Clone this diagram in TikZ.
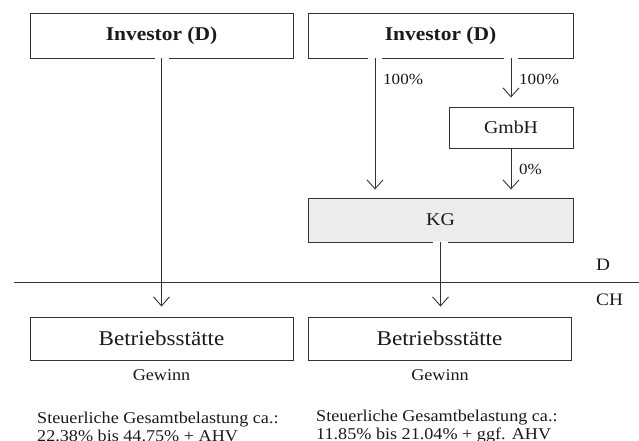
\documentclass[tikz,border=0pt]{standalone}
\usepackage{fontspec}
\setmainfont[FakeStretch=1.1]{Liberation Serif}
\usetikzlibrary{arrows.meta,calc}
\definecolor{ln}{HTML}{333333}
\definecolor{kgfill}{HTML}{ECECEC}
\definecolor{txt}{HTML}{1A1A1A}
\begin{document}
\begin{tikzpicture}[x=1pt,y=-1pt,
  box/.style={draw=ln, line width=0.9pt, inner sep=0pt, align=center, text=txt},
  arr/.style={draw=ln, line width=0.9pt, -{Straight Barb[length=9pt,width=16pt,line width=0.9pt]}},
  halo/.style={draw=white, line width=2.6pt},
  pct/.style={inner sep=0pt, anchor=west, text=txt, font=\fontsize{15.5}{17}\selectfont},
  big/.style={font=\fontsize{21}{23}\selectfont},
  mid/.style={font=\fontsize{18}{20}\selectfont},
  note/.style={inner sep=0pt, text=txt, font=\fontsize{16.5}{18}\selectfont},
  country/.style={inner sep=0pt, anchor=west, text=txt, font=\fontsize{17.5}{20}\selectfont}]
\useasboundingbox (0,0) rectangle (639,441);

% boxes
\node[box, minimum width=263pt, minimum height=45pt, font=\fontsize{19.5}{21}\selectfont\bfseries] (inv1) at (161.5,35.5) {Investor (D)};
\node[box, minimum width=265pt, minimum height=45pt, font=\fontsize{19.5}{21}\selectfont\bfseries] (inv2) at (440.5,35.5) {Investor (D)};
\node[box, mid, minimum width=124pt, minimum height=41pt] (gmbh) at (511,127.5) {GmbH};
\node[box, mid, fill=kgfill, minimum width=265pt, minimum height=44pt] (kg) at (440.5,220) {KG};
\node[box, big, minimum width=263pt, minimum height=43pt] (bs1) at (161.5,338.5) {Betriebsstätte};
\node[box, big, minimum width=263pt, minimum height=43pt] (bs2) at (439.5,338.5) {Betriebsstätte};

% border line D / CH
\coordinate (bl) at (14,282);
\coordinate (br) at (639,282);
\draw[ln, line width=0.9pt] (bl) -- (br);
\node[country] (dl) at (596,265) {D};
\node[country] (chl) at (596,300) {CH};

% halos where connectors leave boxes
\draw[halo] ($(inv1.south)+(-7,0)$) -- ($(inv1.south)+(7,0)$);
\draw[halo] ($(inv2.south)+(-72.5,0)$) -- ($(inv2.south)+(-58.5,0)$);
\draw[halo] ($(inv2.south)+(63.5,0)$) -- ($(inv2.south)+(77.5,0)$);
\draw[halo] ($(kg.south)+(-7.5,0)$) -- ($(kg.south)+(7.5,0)$);

% connectors
\draw[arr, shorten >=10pt] (inv1.south) -- (inv1.south |- bs1.north);
\draw[arr, shorten >=8pt] ([xshift=-65.5pt]inv2.south) -- ([xshift=-65.5pt]kg.north);
\draw[arr, shorten >=9pt] ([xshift=70.5pt]inv2.south) -- (gmbh.north);
\draw[arr, shorten >=8pt] (gmbh.south) -- ([xshift=70.5pt]kg.north);
\draw[arr, shorten >=10pt] (kg.south) -- (kg.south |- bs2.north);

% labels
\node[pct] (p1) at (383,79) {100\%};
\node[pct] (p2) at (519,79) {100\%};
\node[pct] (p3) at (519,169) {0\%};

\node[note] (g1) at (161.5,375) {Gewinn};
\node[note] (g2) at (440,375) {Gewinn};

\node[note, anchor=west, align=left] (s1) at (37,426.5) {Steuerliche Gesamtbelastung ca.:\\22.38\% bis 44.75\% + AHV};
\node[note, anchor=west, align=left] (s2) at (316,426.5) {Steuerliche Gesamtbelastung ca.:\\11.85\% bis 21.04\% + ggf. AHV};
\end{tikzpicture}
\end{document}
